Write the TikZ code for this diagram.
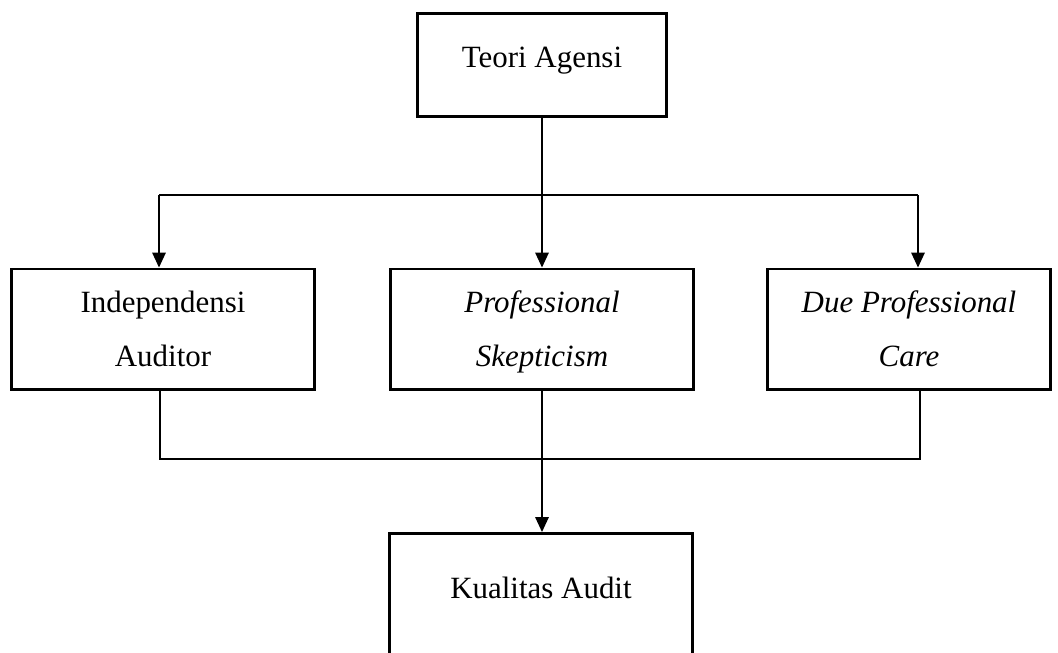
\documentclass[tikz,border=0pt]{standalone}
\usepackage{fontspec}
\setmainfont{Liberation Serif}
\usetikzlibrary{arrows.meta}

\tikzset{
  kotak/.style={draw, line width=2.1pt, inner sep=0pt, align=center, font=\fontsize{22}{38.3}\selectfont},
  garis/.style={line width=1pt},
  panah/.style={line width=1pt, -{Triangle[length=10.5pt,width=9.5pt]}}
}

\begin{document}
\begin{tikzpicture}[x=0.025cm,y=-0.025cm]
\useasboundingbox (0,0) rectangle (1058,652);
% kotak
\node[kotak, anchor=north, minimum width=6.2cm, text height=1.35cm, text depth=1.225cm] (teori) at (542,12) {Teori Agensi};
\node[kotak, minimum width=7.575cm, minimum height=3cm] (indep) at (163,329) {\strut Independensi\\\strut Auditor};
\node[kotak, minimum width=7.55cm, minimum height=3cm] (prof) at (542,329) {\strut\textit{Professional}\\\strut\textit{Skepticism}};
\node[kotak, minimum width=7.075cm, minimum height=3cm] (due) at (909,329) {\strut\textit{Due Professional}\\\strut\textit{Care}};
\node[kotak, anchor=north, minimum width=7.575cm, text height=1.625cm, text depth=3cm] (kual) at (541,532) {Kualitas Audit};
% garis atas
\coordinate (cabang) at (542,195);
\coordinate (kiri) at (159,195);
\coordinate (kanan) at (918,195);
\draw[panah] (teori.south) -- (teori.south |- prof.north);
\draw[garis] (kiri) -- (kanan);
\draw[panah] (kiri) -- (kiri |- indep.north);
\draw[panah] (kanan) -- (kanan |- due.north);
% garis bawah
\coordinate (gabung) at (542,459);
\coordinate (bkiri) at (160,459);
\coordinate (bkanan) at (920,459);
\draw[garis] (bkiri |- indep.south) -- (bkiri) -- (bkanan) -- (bkanan |- due.south);
\draw[garis] (prof.south) -- (gabung);
\draw[panah] (gabung) -- (gabung |- kual.north);
\end{tikzpicture}
\end{document}
